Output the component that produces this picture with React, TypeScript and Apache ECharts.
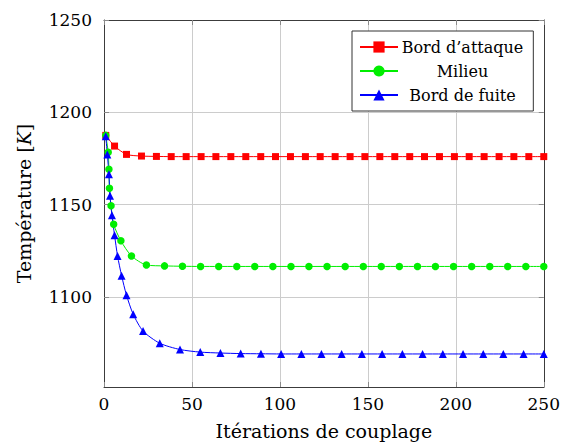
import React, { useEffect, useRef } from "react";
import * as echarts from "echarts";

const seriesNames = ["Bord d\u2019attaque", "Milieu", "Bord de fuite"];

const redX = [1, 6.0, 12.8, 21.3, 29.8, 38.2, 46.7, 55.2, 63.6, 72.1, 80.6, 89.1, 97.5, 106, 114.5, 122.9, 131.4, 139.9, 148.3, 156.8, 165.3, 173.8, 182.2, 190.7, 199.2, 207.6, 216.1, 224.6, 233, 241.5, 250];
const redY = [1187.5, 1181.7, 1177.2, 1176.3, 1176.1, 1176, 1176, 1176, 1176, 1176, 1176, 1176, 1176, 1176, 1176, 1176, 1176, 1176, 1176, 1176, 1176, 1176, 1176, 1176, 1176, 1176, 1176, 1176, 1176, 1176, 1176];

const greenX = [1, 2.4, 2.8, 3.1, 4.0, 5.5, 9.6, 15.6, 24.1, 34.4, 44.6, 54.9, 65.2, 75.5, 85.7, 96, 106.3, 116.5, 126.8, 137.1, 147.4, 157.6, 167.9, 178.2, 188.4, 198.7, 209, 219.3, 229.5, 239.8, 250];
const greenY = [1187.5, 1178.3, 1169.1, 1158.8, 1149.4, 1139.3, 1130.4, 1122.2, 1117.3, 1116.8, 1116.6, 1116.5, 1116.5, 1116.5, 1116.5, 1116.5, 1116.5, 1116.5, 1116.5, 1116.5, 1116.5, 1116.5, 1116.5, 1116.5, 1116.5, 1116.5, 1116.5, 1116.5, 1116.5, 1116.5, 1116.5];

const blueX = [1, 1.9, 2.8, 3.4, 4.5, 6.0, 7.7, 10.0, 12.8, 16.6, 22.2, 31.7, 43.2, 54.7, 66.2, 77.7, 89.2, 100.7, 112.2, 123.6, 135.1, 146.6, 158.1, 169.6, 181.1, 192.6, 204.1, 215.6, 227, 238.5, 250];
const blueY = [1187, 1177.2, 1166.4, 1154.8, 1144.2, 1133.4, 1122.2, 1111.5, 1100.9, 1090.6, 1081.5, 1074.9, 1071.5, 1070.1, 1069.6, 1069.3, 1069.2, 1069.1, 1069.1, 1069.1, 1069.1, 1069.1, 1069.1, 1069.1, 1069.1, 1069.1, 1069.1, 1069.1, 1069.1, 1069.1, 1069.1];

const xTicks = [0, 50, 100, 150, 200, 250];
const yTicks = [1100, 1150, 1200, 1250];

const FONT = "DejaVu Serif";

function pairs(xs: number[], ys: number[]) {
  return xs.map((x, i) => [x, ys[i]]);
}

export default function App() {
  const ref = useRef<HTMLDivElement>(null);
  useEffect(() => {
    if (!ref.current) return;
    const chart = echarts.init(ref.current, null, { renderer: "svg" });
    const frame = "#3c3c3c";
    const tickColor = "#8a8a8a";
    const gridColor = "#cccccc";
    const fmt = (v: number) => String(v);
    const mkX = (pos: "bottom" | "top", main: boolean) => ({
      type: "value",
      position: pos,
      min: xTicks[0],
      max: xTicks[xTicks.length - 1],
      interval: 50,
      axisLine: { show: true, onZero: false, lineStyle: { color: frame, width: 1 } },
      axisTick: { show: true, inside: true, length: 5, lineStyle: { color: tickColor } },
      axisLabel: main
        ? { show: true, color: "#000", fontFamily: FONT, fontSize: 17, margin: 8, formatter: fmt }
        : { show: false },
      splitLine: main ? { show: true, lineStyle: { color: gridColor, width: 1 } } : { show: false },
      ...(main
        ? {
            name: "Itérations de couplage",
            nameLocation: "middle",
            nameGap: 34,
            nameTextStyle: { color: "#000", fontFamily: FONT, fontSize: 19 },
          }
        : {}),
    });
    const mkY = (pos: "left" | "right", main: boolean) => ({
      type: "value",
      position: pos,
      min: 1051.2,
      max: 1250,
      axisLine: { show: true, onZero: false, lineStyle: { color: frame, width: 1 } },
      axisTick: { show: true, inside: true, length: 5, lineStyle: { color: tickColor }, customValues: yTicks },
      axisLabel: main
        ? { show: true, color: "#000", fontFamily: FONT, fontSize: 17, margin: 12, customValues: yTicks, formatter: fmt }
        : { show: false, customValues: yTicks },
      splitLine: main ? { show: true, lineStyle: { color: gridColor, width: 1 } } : { show: false },
      ...(main
        ? {
            name: "Température [{k|K}]",
            nameLocation: "middle",
            nameGap: 71,
            nameTextStyle: {
              color: "#000",
              fontFamily: FONT,
              fontSize: 19,
              rich: { k: { fontStyle: "italic", fontFamily: FONT, fontSize: 19, color: "#000" } },
            },
          }
        : {}),
    });
    const mkSeries = (name: string, xs: number[], ys: number[], color: string, symbol: string, size: number) => ({
      name,
      type: "line",
      xAxisIndex: 0,
      yAxisIndex: 0,
      data: pairs(xs, ys),
      smooth: 0.25,
      symbol,
      symbolSize: size,
      showAllSymbol: true,
      lineStyle: { color, width: 1 },
      itemStyle: { color, borderColor: color, borderWidth: 0 },
      z: 3,
    });
    chart.setOption({
      animation: false,
      backgroundColor: "#fff",
      textStyle: { fontFamily: FONT },
      grid: { left: 104, right: 17, top: 20, bottom: 61, containLabel: false },
      xAxis: [mkX("bottom", true), mkX("top", false)],
      yAxis: [mkY("left", true), mkY("right", false)],
      legend: {
        show: true,
        orient: "vertical",
        left: 352,
        top: 31,
        padding: [8, 10, 8, 7],
        itemWidth: 38,
        itemHeight: 14,
        itemGap: 8,
        backgroundColor: "#fff",
        borderColor: "#333",
        borderWidth: 1,
        borderRadius: 0,
        formatter: (n: string) => `{a|${n}}`,
        textStyle: {
          color: "#000",
          fontFamily: FONT,
          fontSize: 16,
          rich: { a: { width: 119, align: "center", fontFamily: FONT, fontSize: 16, color: "#000" } },
        },
        data: seriesNames,
      },
      series: [
        mkSeries(seriesNames[0], redX, redY, "#ff0000", "rect", 7),
        mkSeries(seriesNames[1], greenX, greenY, "#00ee00", "circle", 7.5),
        mkSeries(seriesNames[2], blueX, blueY, "#0000ff", "triangle", 8),
      ],
    });
    return () => chart.dispose();
  }, []);
  return (
    <div
      ref={ref}
      style={{ position: "absolute", left: 0, top: 0, width: 563, height: 448 }}
    />
  );
}
